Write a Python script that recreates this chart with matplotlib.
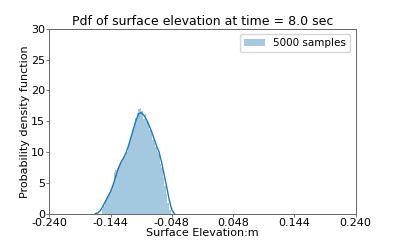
import numpy as np
import matplotlib
matplotlib.use('Agg')
import matplotlib.pyplot as plt

# histogram (density)
bin_start = -0.158
bin_width = 0.0024
hist_heights = [0.8, 1.3, 2.0, 2.6, 3.0, 3.4, 4.2, 4.6, 6.8, 7.0,
                7.4, 7.9, 8.2, 8.6, 9.2, 9.4, 10.0, 11.3, 11.8, 12.9,
                13.6, 14.7, 15.6, 16.3, 16.9, 17.1, 16.6, 15.4, 16.2, 14.8,
                14.8, 13.6, 13.2, 12.0, 11.5, 10.8, 10.0, 9.6, 8.0, 7.4,
                5.8, 4.5, 3.2, 1.8, 0.6]

# kde curve
kde_x = [-0.168, -0.164, -0.160, -0.156, -0.152, -0.148, -0.144, -0.140,
         -0.136, -0.132, -0.128, -0.124, -0.120, -0.116, -0.112, -0.108,
         -0.104, -0.100, -0.096, -0.092, -0.088, -0.084, -0.080, -0.076,
         -0.072, -0.068, -0.064, -0.060, -0.056, -0.052, -0.048, -0.044]
kde_y = [0.0, 0.1, 0.5, 1.2, 2.0, 2.8, 3.6, 4.7,
         6.0, 7.3, 8.3, 9.0, 9.8, 11.0, 12.4, 13.8,
         15.2, 16.2, 16.4, 16.0, 15.3, 14.4, 13.4, 12.2,
         11.0, 10.0, 8.3, 6.3, 4.3, 2.2, 0.6, 0.0]

xticks = [-0.240, -0.144, -0.048, 0.048, 0.144, 0.240]
yticks = [0, 5, 10, 15, 20, 25, 30]

edges = bin_start + bin_width * np.arange(len(hist_heights))

fig, ax = plt.subplots(figsize=(3.95, 2.4), dpi=100)
ax.bar(edges, hist_heights, width=bin_width, align='edge', color='C0',
       alpha=0.4, linewidth=0, label='5000 samples')
ax.plot(kde_x, kde_y, color='C0', linewidth=1.0)

ax.set_xlim(-0.24, 0.24)
ax.set_ylim(0, 30)
ax.set_xticks(xticks)
ax.set_xticklabels(['%.3f' % t for t in xticks])
ax.set_yticks(yticks)
ax.tick_params(labelsize=8, length=2, pad=1, width=0.6, color='#555555')
for s in ax.spines.values():
    s.set_linewidth(0.7)
    s.set_color('#666666')

ax.set_title('Pdf of surface elevation at time = 8.0 sec', fontsize=9, pad=3)
ax.set_xlabel('Surface Elevation:m', fontsize=8, labelpad=0)
ax.set_ylabel('Probability density function', fontsize=8, labelpad=1)
ax.legend(loc='upper right', fontsize=7.5)

plt.savefig('out.png', dpi=100)
